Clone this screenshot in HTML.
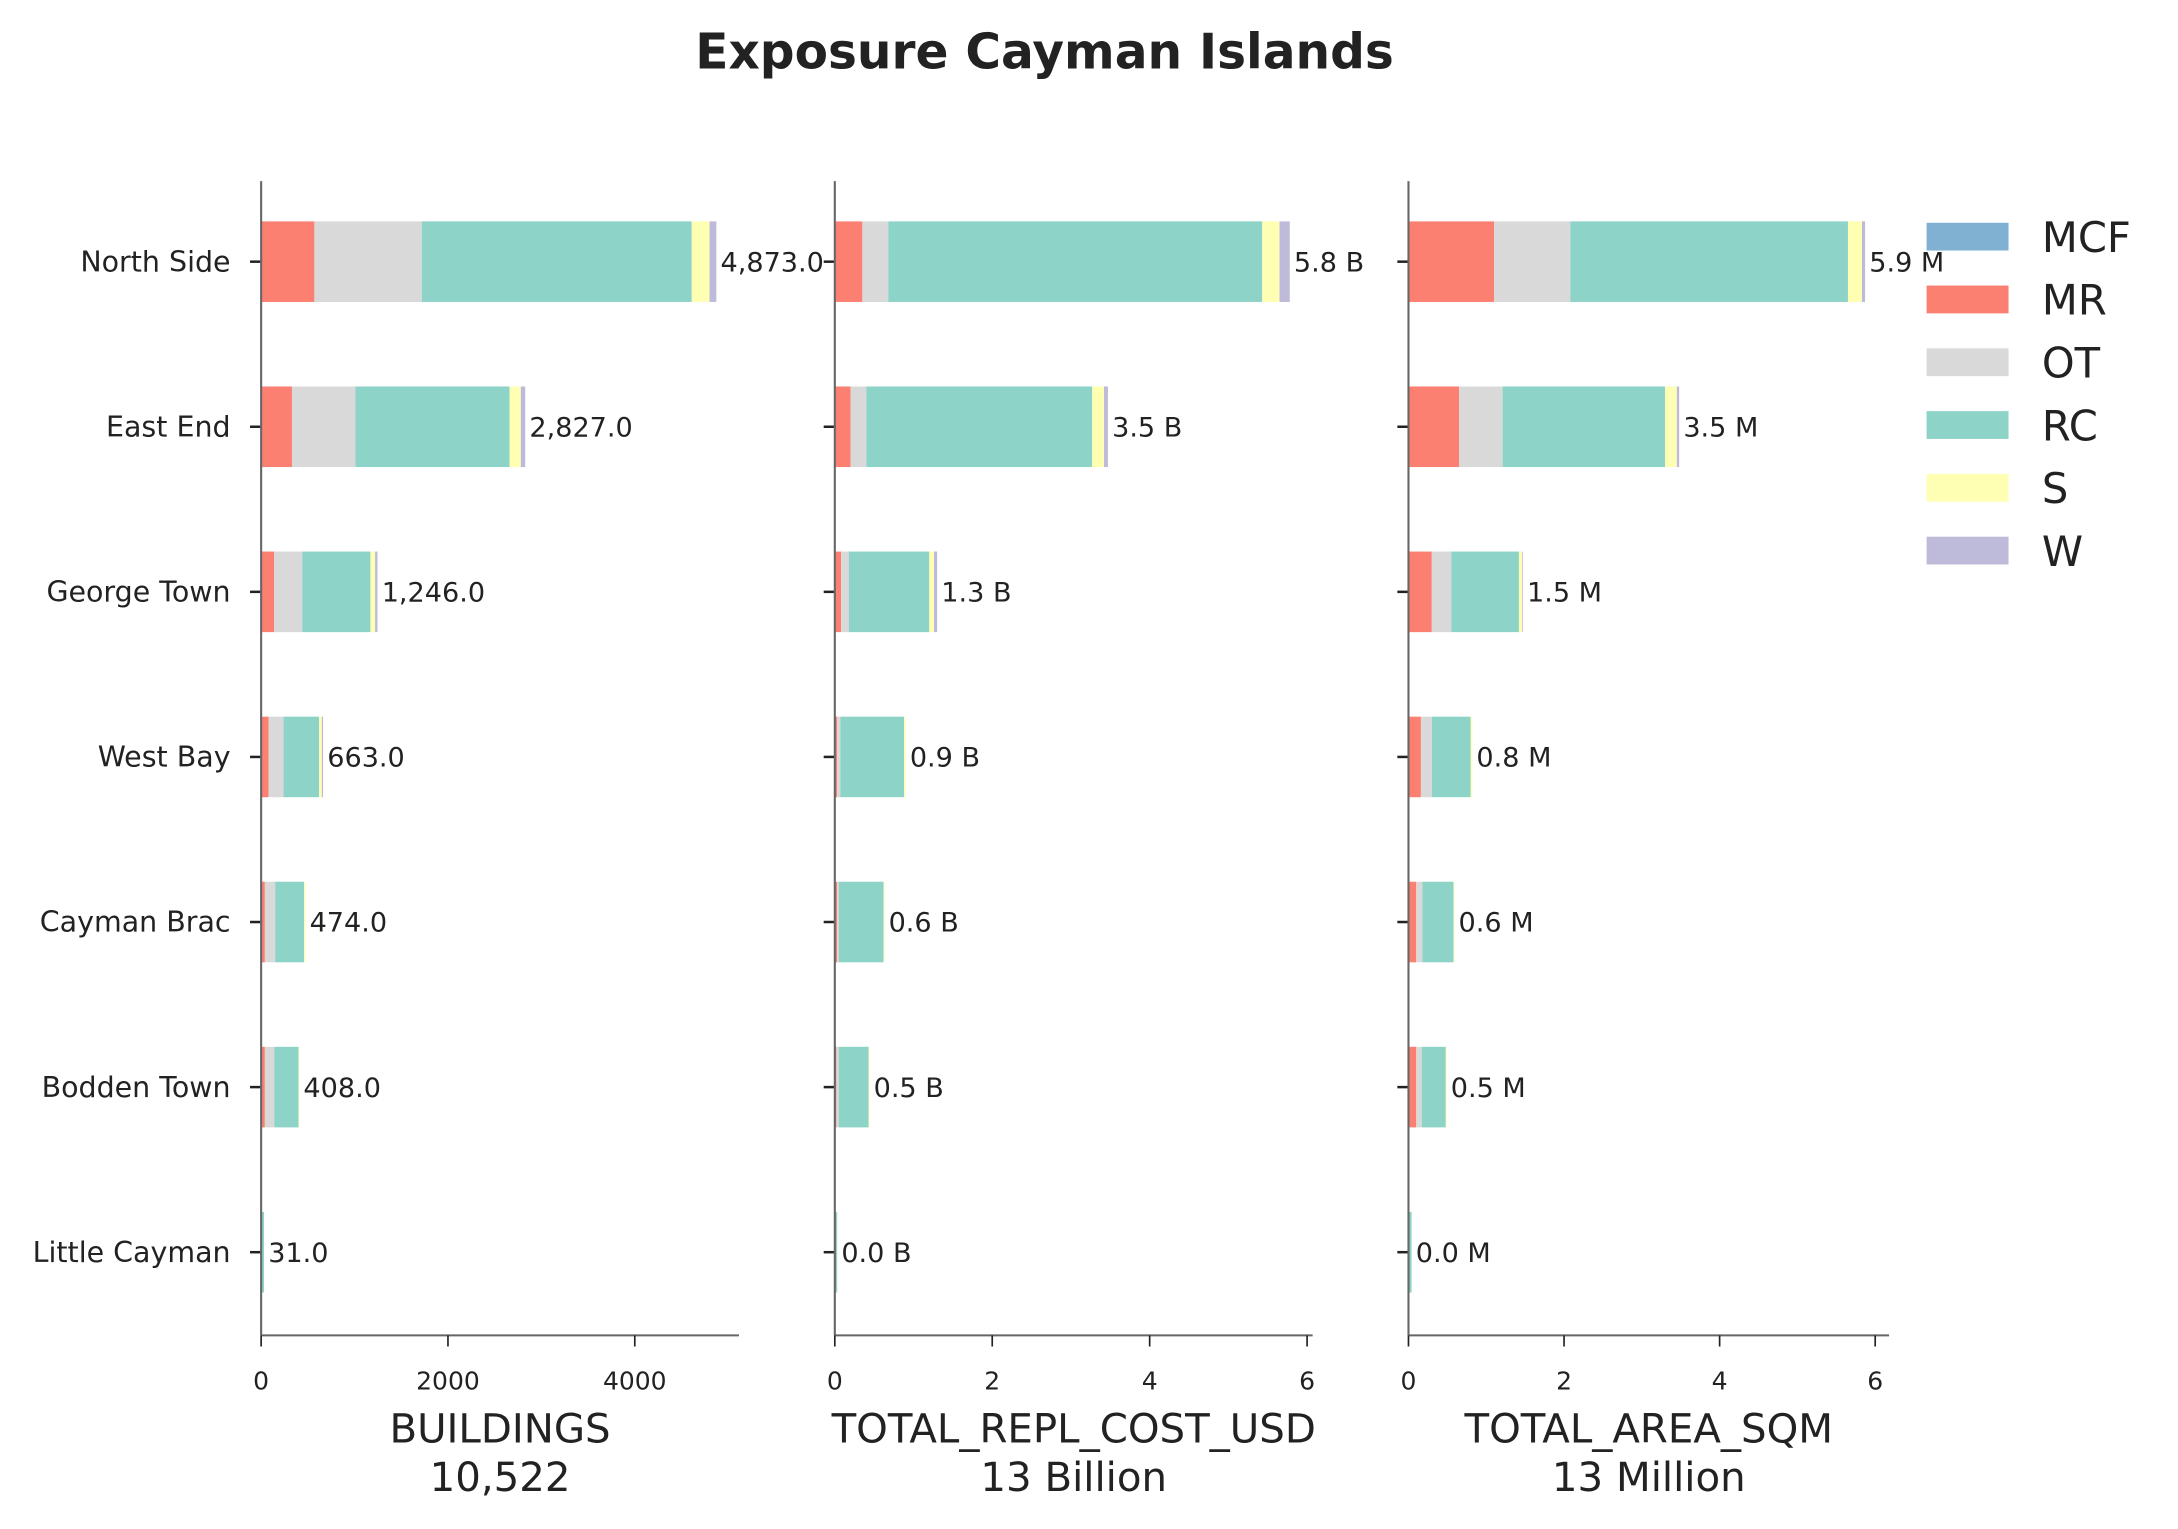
<!DOCTYPE html>
<html><head><meta charset="utf-8"><style>
html,body{margin:0;padding:0;background:#fff}
svg{display:block}
text{font-family:"DejaVu Sans","Liberation Sans",sans-serif;fill:#222}
</style></head><body>
<svg id="chart" width="2178" height="1529" viewBox="0 0 1568 1100" xmlns="http://www.w3.org/2000/svg">
<text x="752" y="49" text-anchor="middle" font-size="35" font-weight="bold">Exposure Cayman Islands</text>
</svg>
<script>
const categories = ["North Side","East End","George Town","West Bay","Cayman Brac","Bodden Town","Little Cayman"];
const seriesNames = ["MCF","MR","OT","RC","S","W"];
const seriesColors = ["#80b1d3","#fb8072","#d9d9d9","#8dd3c7","#ffffb3","#bebada"];
// Buildings per series (per category)
const bMCF = [0,0,0,0,0,0,0];
const bMR = [570,330,140,80,40,40,0];
const bOT = [1150,680,300,160,110,100,0];
const bRC = [2890,1650,730,380,310,260,31];
const bS = [190,120,50,30,14,8,0];
const bW = [73,47,26,13,0,0,0];
const bLabels = ["4,873.0","2,827.0","1,246.0","663.0","474.0","408.0","31.0"];
// Replacement cost (billion USD)
const cMCF = [0,0,0,0,0,0,0];
const cMR = [0.35,0.2,0.08,0.03,0.03,0.02,0];
const cOT = [0.33,0.2,0.1,0.04,0.02,0.03,0];
const cRC = [4.75,2.87,1.02,0.81,0.57,0.38,0.03];
const cS = [0.22,0.15,0.06,0.02,0.01,0.01,0];
const cW = [0.13,0.05,0.04,0,0,0,0];
const cLabels = ["5.8 B","3.5 B","1.3 B","0.9 B","0.6 B","0.5 B","0.0 B"];
// Area (million sqm)
const aMCF = [0,0,0,0,0,0,0];
const aMR = [1.1,0.65,0.3,0.16,0.1,0.1,0];
const aOT = [0.98,0.56,0.25,0.14,0.08,0.07,0];
const aRC = [3.57,2.09,0.87,0.5,0.4,0.31,0.04];
const aS = [0.18,0.15,0.04,0.02,0.01,0.01,0];
const aW = [0.04,0.03,0.01,0,0,0,0];
const aLabels = ["5.9 M","3.5 M","1.5 M","0.8 M","0.6 M","0.5 M","0.0 M"];
const bTicks = [0,2000,4000];
const cTicks = [0,2,4,6];
const aTicks = [0,2,4,6];

const svg = document.getElementById('chart');
const NS = "http://www.w3.org/2000/svg";
function mk(tag, attrs, txt){
  const e = document.createElementNS(NS, tag);
  for (const k in attrs) e.setAttribute(k, attrs[k]);
  if (txt !== undefined) e.textContent = txt;
  svg.appendChild(e);
  return e;
}
const yTop = 130, yBot = 961, rowStart = 188, rowStep = 118.85, barH = 58;
function yPos(i){ return rowStart + i*rowStep; }

const panels = [
  {key:"buildings", x0:188, xEnd:532, scale:269/4000, series:[bMCF,bMR,bOT,bRC,bS,bW], labels:bLabels, ticks:bTicks, title:"BUILDINGS", sub:"10,522"},
  {key:"cost", x0:601, xEnd:945, scale:340/6, series:[cMCF,cMR,cOT,cRC,cS,cW], labels:cLabels, ticks:cTicks, title:"TOTAL_REPL_COST_USD", sub:"13 Billion"},
  {key:"area", x0:1014, xEnd:1360, scale:336/6, series:[aMCF,aMR,aOT,aRC,aS,aW], labels:aLabels, ticks:aTicks, title:"TOTAL_AREA_SQM", sub:"13 Million"}
];

panels.forEach((p, pi) => {
  const xs = v => p.x0 + v*p.scale;
  categories.forEach((cat, ci) => {
    const yc = yPos(ci);
    let acc = 0;
    p.series.forEach((arr, si) => {
      const v = arr[ci];
      if (v > 0) {
        const r = mk('rect', {x: xs(acc), y: yc - barH/2, width: xs(acc+v) - xs(acc), height: barH, fill: seriesColors[si]});
        
        
      }
      acc += v;
    });
    const lt = mk('text', {x: xs(acc) + 3, y: yc + 7, 'font-size': 19.5}, p.labels[ci]);
    
    
    const tk = mk('line', {x1: p.x0 - 8, x2: p.x0, y1: yc, y2: yc, stroke: '#222', 'stroke-width': 1.8});
    
    
    if (pi === 0) {
      const cl = mk('text', {x: 166, y: yc + 7, 'font-size': 20.5, 'text-anchor': 'end'}, cat);
      
      
    }
  });
  const ya = mk('line', {x1: p.x0, x2: p.x0, y1: yTop, y2: yBot, stroke: '#666', 'stroke-width': 1.5});
  
  
  const xa = mk('line', {x1: p.x0, x2: p.xEnd, y1: yBot, y2: yBot, stroke: '#666', 'stroke-width': 1.5});
  
  
  p.ticks.forEach(t => {
    const tl = mk('line', {x1: xs(t), x2: xs(t), y1: yBot, y2: yBot + 8, stroke: '#222', 'stroke-width': 1.2});
    
    
    const tt = mk('text', {x: xs(t), y: yBot + 39, 'font-size': 18, 'text-anchor': 'middle'}, String(t));
    
    
  });
  const cx = (p.x0 + p.xEnd) / 2;
  const t1 = mk('text', {x: cx, y: 1038, 'font-size': 29, 'text-anchor': 'middle'}, p.title);
  
  
  const t2 = mk('text', {x: cx, y: 1073, 'font-size': 29, 'text-anchor': 'middle'}, p.sub);
  
  
});

seriesNames.forEach((n, i) => {
  const y = 170 + i*45.2;
  const r = mk('rect', {x: 1387, y: y - 10, width: 59, height: 20, fill: seriesColors[i]});
  
  
  const t = mk('text', {x: 1470, y: y + 11, 'font-size': 30}, n);
  
  
});
</script>
</body></html>
